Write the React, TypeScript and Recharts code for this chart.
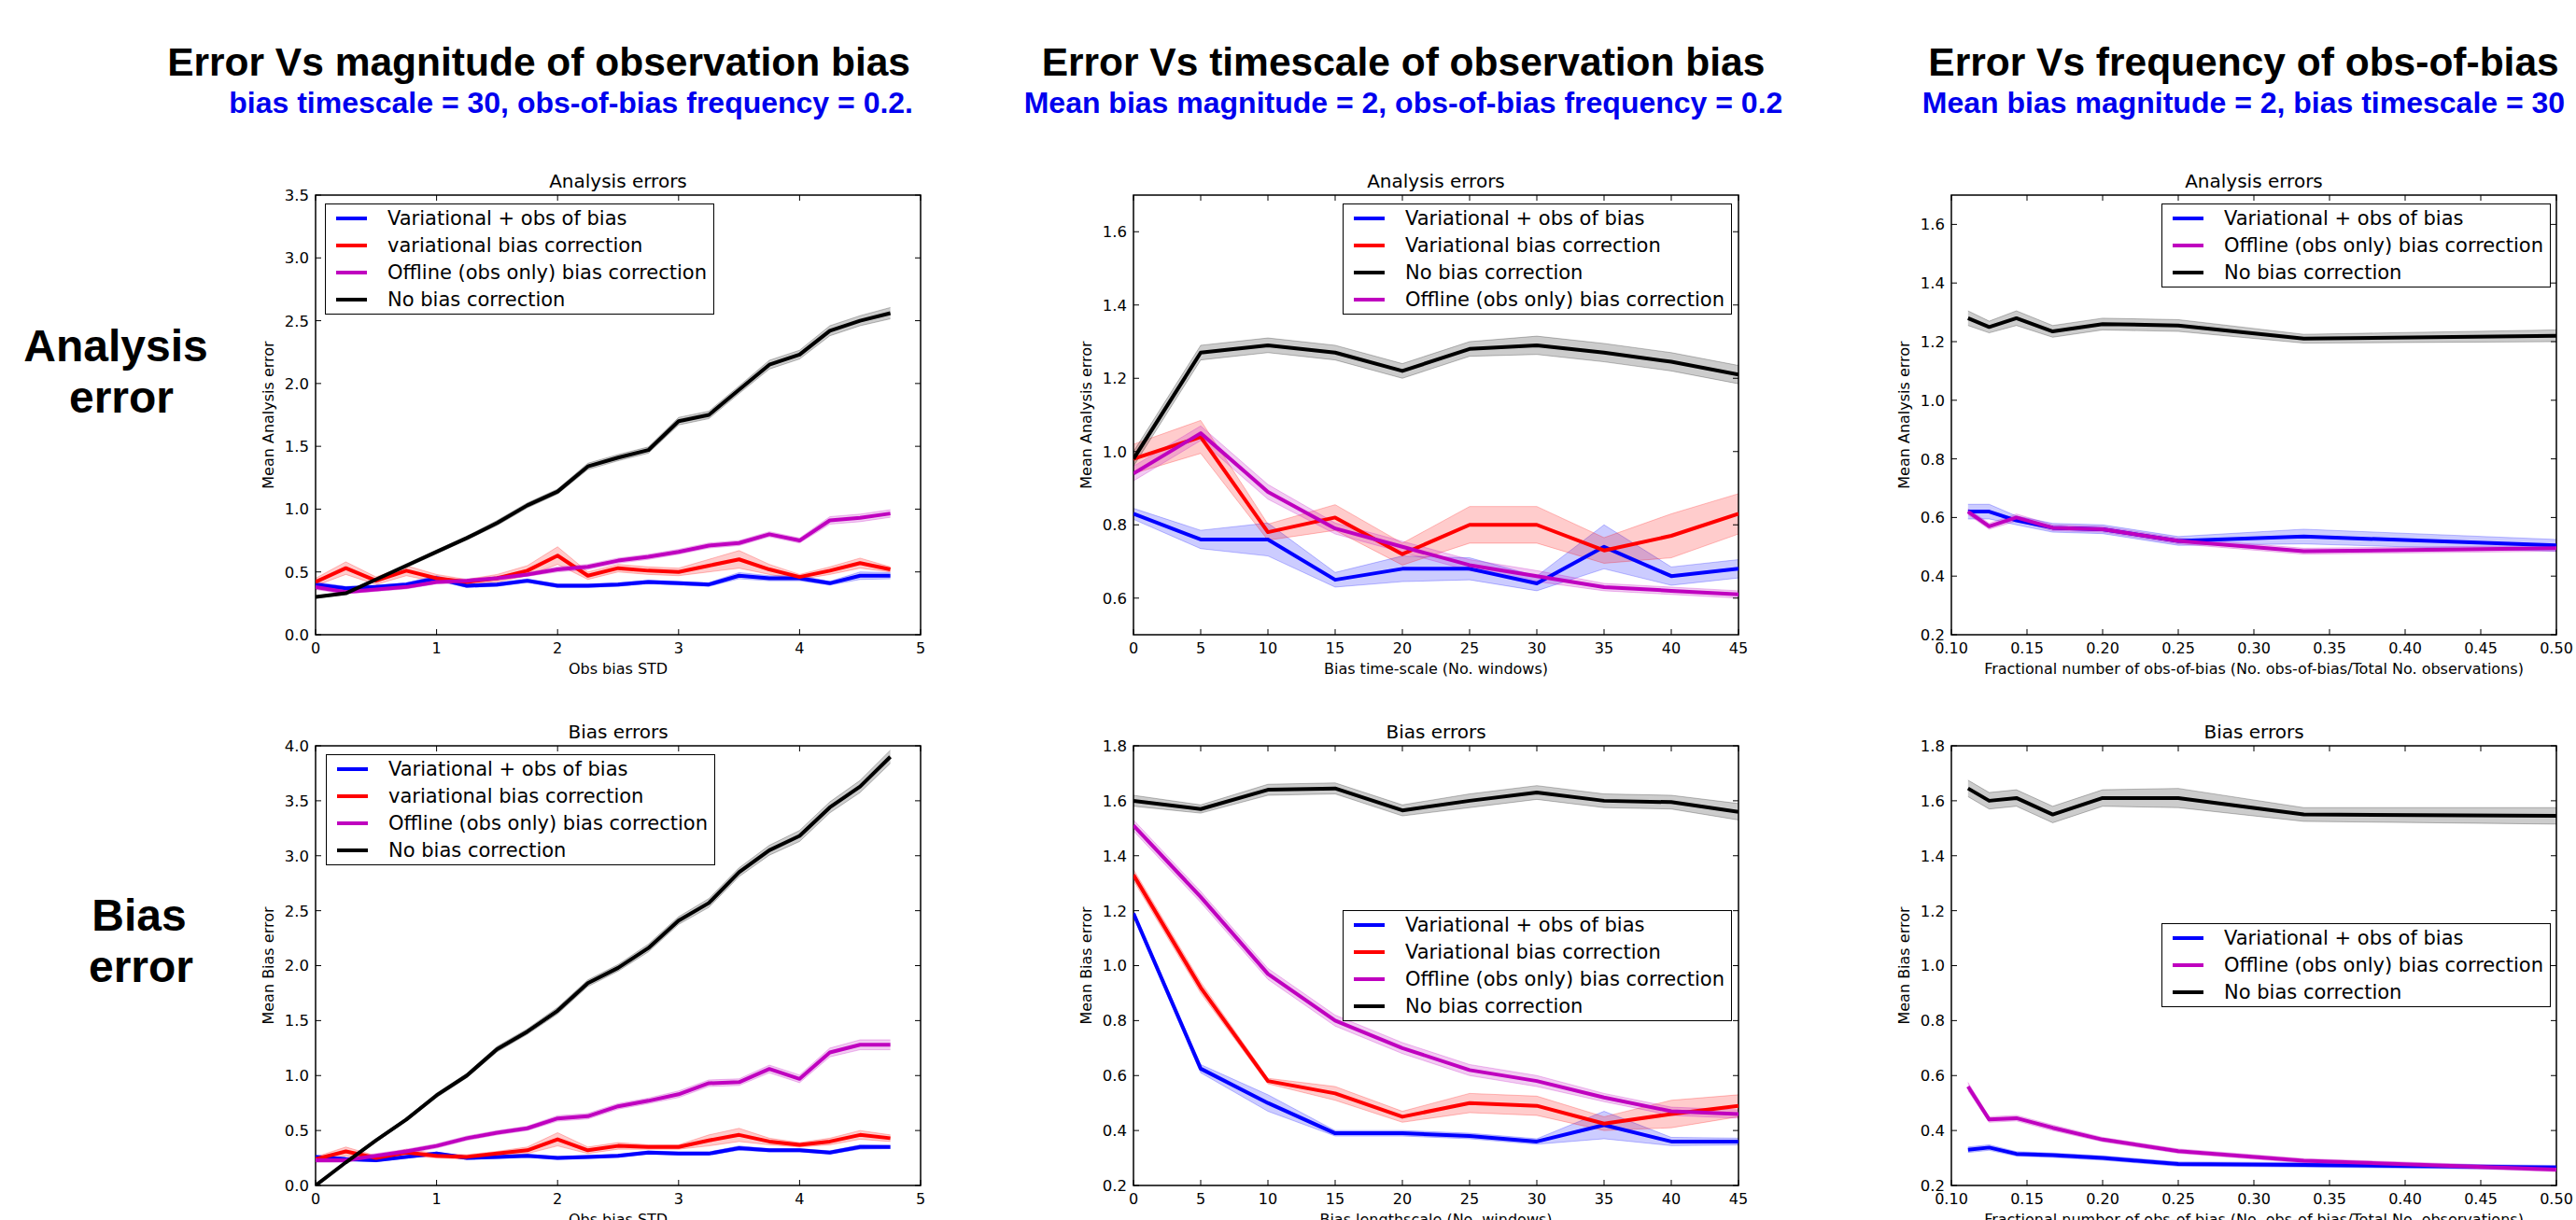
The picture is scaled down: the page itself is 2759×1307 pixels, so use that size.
import React from 'react';
import { ComposedChart, Line, Area, XAxis, YAxis, ReferenceArea } from 'recharts';

const BLUE = '#0000ff';
const RED = '#ff0000';
const MAGENTA = '#bf00bf';
const BLACK = '#000000';
const HEAD_BLUE = '#0000ee';

const FONT = '"DejaVu Sans", sans-serif';
const HEAD_FONT = '"Liberation Sans", Arial, sans-serif';

const PLOT_W = 648;
const PLOT_H = 471;
const M_LEFT = 70;
const M_TOP = 20;
const M_RIGHT = 30;

// ---- column 1: magnitude of observation bias ----
const magnitudeX = [0, 0.25, 0.5, 0.75, 1, 1.25, 1.5, 1.75, 2, 2.25, 2.5, 2.75, 3, 3.25, 3.5, 3.75, 4, 4.25, 4.5, 4.75];
const magnitudeXTicks = [0, 1, 2, 3, 4, 5];

const magAnaBlue = [0.40, 0.37, 0.38, 0.40, 0.45, 0.39, 0.40, 0.43, 0.39, 0.39, 0.40, 0.42, 0.41, 0.40, 0.47, 0.45, 0.45, 0.41, 0.47, 0.47];
const magAnaBlueSpread = [0.02, 0.015, 0.015, 0.015, 0.02, 0.015, 0.015, 0.015, 0.015, 0.015, 0.015, 0.015, 0.015, 0.015, 0.025, 0.02, 0.02, 0.015, 0.03, 0.025];
const magAnaRed = [0.42, 0.53, 0.43, 0.51, 0.45, 0.42, 0.45, 0.51, 0.63, 0.47, 0.53, 0.51, 0.50, 0.55, 0.60, 0.52, 0.46, 0.51, 0.57, 0.52];
const magAnaRedSpread = [0.03, 0.05, 0.03, 0.04, 0.03, 0.02, 0.03, 0.04, 0.07, 0.03, 0.03, 0.03, 0.03, 0.05, 0.07, 0.04, 0.02, 0.03, 0.04, 0.02];
const magAnaMagenta = [0.38, 0.34, 0.36, 0.38, 0.42, 0.43, 0.45, 0.48, 0.52, 0.54, 0.59, 0.62, 0.66, 0.71, 0.73, 0.80, 0.75, 0.91, 0.93, 0.965];
const magAnaMagentaSpread = [0.02, 0.015, 0.015, 0.015, 0.015, 0.015, 0.015, 0.015, 0.02, 0.02, 0.02, 0.02, 0.02, 0.02, 0.02, 0.02, 0.02, 0.03, 0.03, 0.03];
const magAnaBlack = [0.30, 0.33, 0.44, 0.55, 0.66, 0.77, 0.89, 1.03, 1.14, 1.34, 1.41, 1.47, 1.70, 1.75, 1.95, 2.15, 2.23, 2.42, 2.50, 2.56];
const magAnaBlackSpread = [0.01, 0.01, 0.01, 0.015, 0.015, 0.015, 0.02, 0.02, 0.02, 0.025, 0.025, 0.025, 0.03, 0.03, 0.03, 0.035, 0.035, 0.04, 0.04, 0.045];
const magAnaYTicks = [0, 0.5, 1, 1.5, 2, 2.5, 3, 3.5];

const magBiasBlue = [0.26, 0.24, 0.23, 0.26, 0.29, 0.25, 0.26, 0.27, 0.25, 0.26, 0.27, 0.30, 0.29, 0.29, 0.34, 0.32, 0.32, 0.30, 0.35, 0.35];
const magBiasBlueSpread = [0.015, 0.015, 0.015, 0.015, 0.015, 0.015, 0.015, 0.015, 0.015, 0.015, 0.015, 0.015, 0.015, 0.015, 0.02, 0.015, 0.015, 0.015, 0.02, 0.015];
const magBiasRed = [0.24, 0.31, 0.25, 0.30, 0.27, 0.26, 0.29, 0.32, 0.42, 0.32, 0.36, 0.35, 0.35, 0.41, 0.46, 0.40, 0.37, 0.40, 0.46, 0.43];
const magBiasRedSpread = [0.02, 0.04, 0.02, 0.03, 0.02, 0.02, 0.02, 0.03, 0.06, 0.03, 0.03, 0.02, 0.02, 0.05, 0.06, 0.03, 0.02, 0.03, 0.04, 0.03];
const magBiasMagenta = [0.23, 0.23, 0.27, 0.31, 0.36, 0.43, 0.48, 0.52, 0.61, 0.63, 0.72, 0.77, 0.83, 0.93, 0.94, 1.06, 0.97, 1.21, 1.28, 1.28];
const magBiasMagentaSpread = [0.02, 0.02, 0.02, 0.02, 0.02, 0.02, 0.02, 0.02, 0.025, 0.025, 0.025, 0.025, 0.03, 0.03, 0.03, 0.035, 0.035, 0.04, 0.045, 0.045];
const magBiasBlack = [0.00, 0.21, 0.41, 0.60, 0.82, 1.00, 1.24, 1.40, 1.59, 1.84, 1.98, 2.16, 2.41, 2.57, 2.85, 3.05, 3.18, 3.44, 3.63, 3.90];
const magBiasBlackSpread = [0.01, 0.01, 0.015, 0.015, 0.02, 0.02, 0.025, 0.025, 0.03, 0.03, 0.03, 0.035, 0.035, 0.04, 0.04, 0.045, 0.05, 0.05, 0.055, 0.06];
const magBiasYTicks = [0, 0.5, 1, 1.5, 2, 2.5, 3, 3.5, 4];

// ---- column 2: timescale of observation bias ----
const timescaleX = [0, 5, 10, 15, 20, 25, 30, 35, 40, 45];
const timescaleXTicks = [0, 5, 10, 15, 20, 25, 30, 35, 40, 45];

const tsAnaBlue = [0.83, 0.76, 0.76, 0.65, 0.68, 0.68, 0.64, 0.74, 0.66, 0.68];
const tsAnaBlueSpread = [0.015, 0.025, 0.045, 0.02, 0.035, 0.03, 0.02, 0.06, 0.025, 0.025];
const tsAnaRed = [0.98, 1.04, 0.78, 0.82, 0.72, 0.80, 0.80, 0.73, 0.77, 0.83];
const tsAnaRedSpread = [0.04, 0.045, 0.022, 0.035, 0.03, 0.05, 0.05, 0.035, 0.06, 0.055];
const tsAnaBlack = [0.98, 1.27, 1.29, 1.27, 1.22, 1.28, 1.29, 1.27, 1.245, 1.21];
const tsAnaBlackSpread = [0.02, 0.02, 0.02, 0.02, 0.02, 0.02, 0.025, 0.025, 0.025, 0.025];
const tsAnaMagenta = [0.94, 1.05, 0.89, 0.79, 0.74, 0.69, 0.66, 0.63, 0.62, 0.61];
const tsAnaMagentaSpread = [0.02, 0.02, 0.02, 0.015, 0.015, 0.015, 0.015, 0.01, 0.01, 0.01];
const tsAnaYTicks = [0.6, 0.8, 1.0, 1.2, 1.4, 1.6];

const tsBiasBlue = [1.19, 0.625, 0.50, 0.39, 0.39, 0.38, 0.36, 0.42, 0.36, 0.36];
const tsBiasBlueSpread = [0.01, 0.015, 0.03, 0.01, 0.01, 0.01, 0.01, 0.05, 0.015, 0.012];
const tsBiasRed = [1.33, 0.92, 0.58, 0.535, 0.45, 0.50, 0.49, 0.425, 0.46, 0.49];
const tsBiasRedSpread = [0.02, 0.02, 0.01, 0.025, 0.02, 0.035, 0.035, 0.025, 0.05, 0.04];
const tsBiasMagenta = [1.51, 1.25, 0.97, 0.80, 0.70, 0.62, 0.58, 0.52, 0.47, 0.46];
const tsBiasMagentaSpread = [0.02, 0.02, 0.02, 0.02, 0.02, 0.02, 0.02, 0.015, 0.015, 0.015];
const tsBiasBlack = [1.60, 1.57, 1.64, 1.645, 1.565, 1.60, 1.63, 1.60, 1.595, 1.56];
const tsBiasBlackSpread = [0.02, 0.015, 0.02, 0.02, 0.02, 0.025, 0.025, 0.025, 0.025, 0.03];
const tsBiasYTicks = [0.2, 0.4, 0.6, 0.8, 1.0, 1.2, 1.4, 1.6, 1.8];

// ---- column 3: frequency of obs-of-bias ----
const freqX = [0.111, 0.125, 0.143, 0.167, 0.2, 0.25, 0.333, 0.5];
const freqXTicks = [0.1, 0.15, 0.2, 0.25, 0.3, 0.35, 0.4, 0.45, 0.5];

const frAnaBlue = [0.62, 0.62, 0.59, 0.565, 0.56, 0.52, 0.535, 0.505];
const frAnaBlueSpread = [0.025, 0.025, 0.015, 0.015, 0.015, 0.015, 0.025, 0.02];
const frAnaMagenta = [0.62, 0.57, 0.60, 0.565, 0.56, 0.52, 0.485, 0.495];
const frAnaMagentaSpread = [0.01, 0.01, 0.012, 0.01, 0.01, 0.01, 0.01, 0.01];
const frAnaBlack = [1.28, 1.25, 1.28, 1.235, 1.26, 1.255, 1.21, 1.22];
const frAnaBlackSpread = [0.025, 0.02, 0.025, 0.02, 0.02, 0.02, 0.015, 0.02];
const frAnaYTicks = [0.2, 0.4, 0.6, 0.8, 1.0, 1.2, 1.4, 1.6];

const frBiasBlue = [0.33, 0.338, 0.315, 0.31, 0.30, 0.278, 0.275, 0.265];
const frBiasBlueSpread = [0.01, 0.01, 0.008, 0.008, 0.008, 0.008, 0.008, 0.008];
const frBiasMagenta = [0.56, 0.44, 0.445, 0.41, 0.367, 0.325, 0.29, 0.258];
const frBiasMagentaSpread = [0.015, 0.01, 0.01, 0.01, 0.008, 0.008, 0.008, 0.008];
const frBiasBlack = [1.645, 1.60, 1.61, 1.55, 1.61, 1.61, 1.55, 1.545];
const frBiasBlackSpread = [0.03, 0.03, 0.03, 0.03, 0.03, 0.035, 0.025, 0.03];
const frBiasYTicks = [0.2, 0.4, 0.6, 0.8, 1.0, 1.2, 1.4, 1.6, 1.8];

const NAME_VAROBS = 'Variational + obs of bias';
const NAME_OFFLINE = 'Offline (obs only) bias correction';
const NAME_NONE = 'No bias correction';

interface Series {
  key: string;
  name: string;
  color: string;
  values: number[];
  spread: number[];
}

interface PanelDef {
  id: string;
  left: number;
  top: number;
  x: number[];
  series: Series[];
  xDomain: [number, number];
  xTicks: number[];
  xDigits: number;
  yDomain: [number, number];
  yTicks: number[];
  title: string;
  xLabel: string;
  yLabel: string;
  legendLeft: number;
  legendTop: number;
}

const COL1 = 338;
const COL2 = 1214;
const COL3 = 2090;
const ROW1 = 209;
const ROW2 = 799;

const panels: PanelDef[] = [
  {
    id: 'p1', left: COL1, top: ROW1, x: magnitudeX,
    series: [
      { key: 'blue', name: NAME_VAROBS, color: BLUE, values: magAnaBlue, spread: magAnaBlueSpread },
      { key: 'red', name: 'variational bias correction', color: RED, values: magAnaRed, spread: magAnaRedSpread },
      { key: 'mag', name: NAME_OFFLINE, color: MAGENTA, values: magAnaMagenta, spread: magAnaMagentaSpread },
      { key: 'black', name: NAME_NONE, color: BLACK, values: magAnaBlack, spread: magAnaBlackSpread },
    ],
    xDomain: [0, 5], xTicks: magnitudeXTicks, xDigits: 0, yDomain: [0, 3.5], yTicks: magAnaYTicks,
    title: 'Analysis errors', xLabel: 'Obs bias STD', yLabel: 'Mean Analysis error',
    legendLeft: 348, legendTop: 218,
  },
  {
    id: 'p2', left: COL1, top: ROW2, x: magnitudeX,
    series: [
      { key: 'blue', name: NAME_VAROBS, color: BLUE, values: magBiasBlue, spread: magBiasBlueSpread },
      { key: 'red', name: 'variational bias correction', color: RED, values: magBiasRed, spread: magBiasRedSpread },
      { key: 'mag', name: NAME_OFFLINE, color: MAGENTA, values: magBiasMagenta, spread: magBiasMagentaSpread },
      { key: 'black', name: NAME_NONE, color: BLACK, values: magBiasBlack, spread: magBiasBlackSpread },
    ],
    xDomain: [0, 5], xTicks: magnitudeXTicks, xDigits: 0, yDomain: [0, 4], yTicks: magBiasYTicks,
    title: 'Bias errors', xLabel: 'Obs bias STD', yLabel: 'Mean Bias error',
    legendLeft: 349, legendTop: 808,
  },
  {
    id: 'p3', left: COL2, top: ROW1, x: timescaleX,
    series: [
      { key: 'blue', name: NAME_VAROBS, color: BLUE, values: tsAnaBlue, spread: tsAnaBlueSpread },
      { key: 'red', name: 'Variational bias correction', color: RED, values: tsAnaRed, spread: tsAnaRedSpread },
      { key: 'black', name: NAME_NONE, color: BLACK, values: tsAnaBlack, spread: tsAnaBlackSpread },
      { key: 'mag', name: NAME_OFFLINE, color: MAGENTA, values: tsAnaMagenta, spread: tsAnaMagentaSpread },
    ],
    xDomain: [0, 45], xTicks: timescaleXTicks, xDigits: 0, yDomain: [0.5, 1.7], yTicks: tsAnaYTicks,
    title: 'Analysis errors', xLabel: 'Bias time-scale (No. windows)', yLabel: 'Mean Analysis error',
    legendLeft: 1438, legendTop: 218,
  },
  {
    id: 'p4', left: COL2, top: ROW2, x: timescaleX,
    series: [
      { key: 'blue', name: NAME_VAROBS, color: BLUE, values: tsBiasBlue, spread: tsBiasBlueSpread },
      { key: 'red', name: 'Variational bias correction', color: RED, values: tsBiasRed, spread: tsBiasRedSpread },
      { key: 'mag', name: NAME_OFFLINE, color: MAGENTA, values: tsBiasMagenta, spread: tsBiasMagentaSpread },
      { key: 'black', name: NAME_NONE, color: BLACK, values: tsBiasBlack, spread: tsBiasBlackSpread },
    ],
    xDomain: [0, 45], xTicks: timescaleXTicks, xDigits: 0, yDomain: [0.2, 1.8], yTicks: tsBiasYTicks,
    title: 'Bias errors', xLabel: 'Bias lengthscale (No. windows)', yLabel: 'Mean Bias error',
    legendLeft: 1438, legendTop: 975,
  },
  {
    id: 'p5', left: COL3, top: ROW1, x: freqX,
    series: [
      { key: 'blue', name: NAME_VAROBS, color: BLUE, values: frAnaBlue, spread: frAnaBlueSpread },
      { key: 'mag', name: NAME_OFFLINE, color: MAGENTA, values: frAnaMagenta, spread: frAnaMagentaSpread },
      { key: 'black', name: NAME_NONE, color: BLACK, values: frAnaBlack, spread: frAnaBlackSpread },
    ],
    xDomain: [0.1, 0.5], xTicks: freqXTicks, xDigits: 2, yDomain: [0.2, 1.7], yTicks: frAnaYTicks,
    title: 'Analysis errors', xLabel: 'Fractional number of obs-of-bias (No. obs-of-bias/Total No. observations)', yLabel: 'Mean Analysis error',
    legendLeft: 2315, legendTop: 218,
  },
  {
    id: 'p6', left: COL3, top: ROW2, x: freqX,
    series: [
      { key: 'blue', name: NAME_VAROBS, color: BLUE, values: frBiasBlue, spread: frBiasBlueSpread },
      { key: 'mag', name: NAME_OFFLINE, color: MAGENTA, values: frBiasMagenta, spread: frBiasMagentaSpread },
      { key: 'black', name: NAME_NONE, color: BLACK, values: frBiasBlack, spread: frBiasBlackSpread },
    ],
    xDomain: [0.1, 0.5], xTicks: freqXTicks, xDigits: 2, yDomain: [0.2, 1.8], yTicks: frBiasYTicks,
    title: 'Bias errors', xLabel: 'Fractional number of obs-of-bias (No. obs-of-bias/Total No. observations)', yLabel: 'Mean Bias error',
    legendLeft: 2315, legendTop: 989,
  },
];

// ticks point inward on all four sides, like matplotlib's classic style
function XTick(props: any) {
  const { x, y, payload, digits } = props;
  return (
    <g>
      <line x1={x} x2={x} y1={y} y2={y - 6} stroke="#000" strokeWidth={1} />
      <line x1={x} x2={x} y1={y - PLOT_H} y2={y - PLOT_H + 6} stroke="#000" strokeWidth={1} />
      <text x={x} y={y + 20} textAnchor="middle" fontSize={16} fontFamily={FONT} fill="#000">
        {Number(payload.value).toFixed(digits)}
      </text>
    </g>
  );
}

function YTick(props: any) {
  const { x, y, payload } = props;
  return (
    <g>
      <line x1={x} x2={x + 6} y1={y} y2={y} stroke="#000" strokeWidth={1} />
      <line x1={x + PLOT_W} x2={x + PLOT_W - 6} y1={y} y2={y} stroke="#000" strokeWidth={1} />
      <text x={x - 7} y={y} dy="0.36em" textAnchor="end" fontSize={16.5} fontFamily={FONT} fill="#000">
        {Number(payload.value).toFixed(1)}
      </text>
    </g>
  );
}

function LegendBox({ items, left, top }: { items: Series[]; left: number; top: number }) {
  return (
    <div
      style={{
        position: 'absolute', left, top, width: 417, boxSizing: 'border-box',
        border: '1.5px solid #000', background: '#fff', padding: '1px 0',
        fontFamily: FONT, fontSize: 21, color: '#000',
      }}
    >
      {items.map((s) => (
        <div key={s.key} style={{ display: 'flex', alignItems: 'center', height: 28.8 }}>
          <div style={{ width: 33, height: 4, background: s.color, marginLeft: 11, marginRight: 22 }} />
          <span style={{ whiteSpace: 'nowrap' }}>{s.name}</span>
        </div>
      ))}
    </div>
  );
}

function Panel({ p }: { p: PanelDef }) {
  const rows = p.x.map((x, i) => {
    const row: Record<string, any> = { x };
    p.series.forEach((s) => {
      row[s.key] = s.values[i];
      row[s.key + 'Band'] = [s.values[i] - s.spread[i], s.values[i] + s.spread[i]];
    });
    return row;
  });

  return (
    <div style={{ position: 'absolute', left: p.left - M_LEFT, top: p.top - M_TOP }}>
      <ComposedChart
        width={PLOT_W + M_LEFT + M_RIGHT}
        height={PLOT_H + M_TOP + 50}
        data={rows}
        margin={{ top: M_TOP, right: M_RIGHT, bottom: 0, left: 10 }}
      >
        <XAxis
          dataKey="x" type="number" domain={p.xDomain} ticks={p.xTicks} interval={0}
          allowDataOverflow axisLine={false} tickLine={false} tickSize={0} tickMargin={0} height={50}
          tick={(t: any) => <XTick {...t} digits={p.xDigits} />}
        />
        <YAxis
          type="number" domain={p.yDomain} ticks={p.yTicks} interval={0}
          allowDataOverflow axisLine={false} tickLine={false} tickSize={0} tickMargin={0} width={60}
          tick={(t: any) => <YTick {...t} />}
        />
        {p.series.map((s) => (
          <Area
            key={s.key + 'Band'} dataKey={s.key + 'Band'} type="linear"
            fill={s.color} fillOpacity={0.2} stroke={s.color} strokeOpacity={0.25} strokeWidth={1}
            dot={false} activeDot={false} isAnimationActive={false}
          />
        ))}
        {p.series.map((s) => (
          <Line
            key={s.key} dataKey={s.key} type="linear" stroke={s.color} strokeWidth={4}
            strokeLinejoin="round" dot={false} activeDot={false} isAnimationActive={false}
          />
        ))}
        <ReferenceArea
          x1={p.xDomain[0]} x2={p.xDomain[1]} y1={p.yDomain[0]} y2={p.yDomain[1]}
          fill="none" fillOpacity={0} stroke="#000" strokeWidth={1.5} ifOverflow="visible"
        />
      </ComposedChart>
    </div>
  );
}

function PanelText({ p }: { p: PanelDef }) {
  const cx = p.left + PLOT_W / 2;
  const cy = p.top + PLOT_H / 2;
  const yx = p.left - 45;
  return (
    <g fontFamily={FONT} fill="#000">
      <text x={cx} y={p.top - 8} textAnchor="middle" fontSize={20}>{p.title}</text>
      <text x={cx} y={p.top + PLOT_H + 42} textAnchor="middle" fontSize={16}>{p.xLabel}</text>
      <text x={yx} y={cy} textAnchor="middle" fontSize={16} transform={`rotate(-90 ${yx} ${cy})`}>{p.yLabel}</text>
    </g>
  );
}

export default function App() {
  return (
    <div style={{ position: 'absolute', left: 0, top: 0, width: 2759, height: 1307, overflow: 'hidden', background: '#fff' }}>
      <svg width={2759} height={1307} style={{ position: 'absolute', left: 0, top: 0 }}>
        <g fontFamily={HEAD_FONT} fontWeight="bold">
          <text x={975} y={81} textAnchor="end" fontSize={42.5} fill="#000">Error Vs magnitude of observation bias</text>
          <text x={978} y={121} textAnchor="end" fontSize={32} fill={HEAD_BLUE}>bias timescale = 30, obs-of-bias frequency = 0.2.</text>
          <text x={1503} y={81} textAnchor="middle" fontSize={42.5} fill="#000">Error Vs timescale of observation bias</text>
          <text x={1503} y={121} textAnchor="middle" fontSize={32} fill={HEAD_BLUE}>Mean bias magnitude = 2, obs-of-bias frequency = 0.2</text>
          <text x={2403} y={81} textAnchor="middle" fontSize={42.5} fill="#000">Error Vs frequency of obs-of-bias</text>
          <text x={2403} y={121} textAnchor="middle" fontSize={32} fill={HEAD_BLUE}>Mean bias magnitude = 2, bias timescale = 30</text>
          <text x={124} y={387} textAnchor="middle" fontSize={48} fill="#000">Analysis</text>
          <text x={130} y={442} textAnchor="middle" fontSize={48} fill="#000">error</text>
          <text x={149} y={997} textAnchor="middle" fontSize={48} fill="#000">Bias</text>
          <text x={151} y={1052} textAnchor="middle" fontSize={48} fill="#000">error</text>
        </g>
        {panels.map((p) => <PanelText key={p.id} p={p} />)}
      </svg>
      {panels.map((p) => <Panel key={p.id} p={p} />)}
      {panels.map((p) => <LegendBox key={p.id + 'legend'} items={p.series} left={p.legendLeft} top={p.legendTop} />)}
    </div>
  );
}
